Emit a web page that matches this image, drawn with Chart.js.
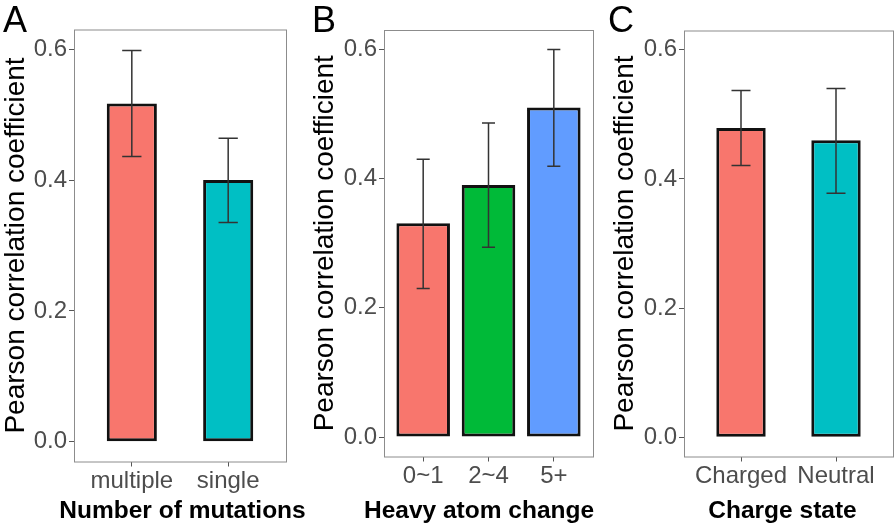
<!DOCTYPE html>
<html>
<head>
<meta charset="utf-8">
<script src="https://cdn.jsdelivr.net/npm/chart.js@4.4.1/dist/chart.umd.min.js"></script>
<style>
    body { margin: 0; background: #fff; }
    #wrap { position: relative; width: 896px; height: 527px; }
    .panel { position: absolute; top: 0; height: 527px; }
    .tag { position: absolute; font-family: 'Liberation Sans', Arial, sans-serif; font-size: 36px; line-height: 1; color: #000; }
</style>
</head>
<body>
<div id="wrap">
    <!-- panel A is a bit wider than its slot so its long x title is not clipped;
         canvases are transparent, so the overlap does not hide anything -->
    <div class="panel" style="left:0;width:320px"><canvas id="chartA"></canvas></div>
    <div class="panel" style="left:300px;width:300px"><canvas id="chartB"></canvas></div>
    <div class="panel" style="left:600px;width:296px"><canvas id="chartC"></canvas></div>
    <div class="tag" style="left:3px;top:2px">A</div>
    <div class="tag" style="left:312px;top:2px">B</div>
    <div class="tag" style="left:608px;top:2px">C</div>
</div>
<script>
// panel A
const mutationCats = ['multiple', 'single'];
const mutationVals = [0.517, 0.400];
const mutationLow = [0.436, 0.335];
const mutationHigh = [0.598, 0.464];

// panel B
const atomCats = ['0~1', '2~4', '5+'];
const atomVals = [0.331, 0.390, 0.510];
const atomLow = [0.230, 0.294, 0.419];
const atomHigh = [0.430, 0.486, 0.600];

// panel C
const chargeCats = ['Charged', 'Neutral'];
const chargeVals = [0.479, 0.460];
const chargeLow = [0.421, 0.378];
const chargeHigh = [0.537, 0.540];

const yTicks = [0, 0.2, 0.4, 0.6];

const FONT = "'Liberation Sans', Arial, sans-serif";

// error bars with small caps, drawn through the chart scales
const errorBarPlugin = {
    id: 'errbars',
    afterDatasetsDraw(chart, args, opts) {
        const ctx = chart.ctx;
        const x = chart.scales.x;
        const y = chart.scales.y;
        ctx.save();
        ctx.strokeStyle = '#333';
        ctx.lineWidth = 1.5;
        opts.low.forEach((lo, i) => {
            const cx = x.getPixelForValue(i + 1);
            const half = x.getPixelForValue(i + 1 + 0.1) - cx;
            const yLo = y.getPixelForValue(lo);
            const yHi = y.getPixelForValue(opts.high[i]);
            ctx.beginPath();
            ctx.moveTo(cx, yLo); ctx.lineTo(cx, yHi);
            ctx.moveTo(cx - half, yLo); ctx.lineTo(cx + half, yLo);
            ctx.moveTo(cx - half, yHi); ctx.lineTo(cx + half, yHi);
            ctx.stroke();
        });
        ctx.restore();
    }
};

// panel border around the plot area, plus the bold x title.
// the built-in scale title squeezes text to the plot width, which is
// narrower than these titles, so it is drawn here instead
const framePlugin = {
    id: 'frame',
    afterDraw(chart, args, opts) {
        const a = chart.chartArea;
        const ctx = chart.ctx;
        ctx.save();
        ctx.strokeStyle = '#8c8c8c';
        ctx.lineWidth = 1;
        ctx.strokeRect(a.left + 0.5, a.top + 0.5, a.right - a.left, a.bottom - a.top);

        ctx.fillStyle = '#000';
        ctx.font = 'bold 24.5px ' + FONT;
        ctx.textAlign = 'center';
        ctx.textBaseline = 'alphabetic';
        ctx.fillText(opts.xTitle, (a.left + a.right) / 2 + opts.shift, chart.height - 9);
        ctx.restore();
    }
};

function makePanel(id, cats, vals, low, high, colors, xTitle, lay) {
    const ctx = document.getElementById(id);
    return new Chart(ctx, {
        type: 'bar',
        data: {
            datasets: [{
                data: vals.map((v, i) => ({ x: i + 1, y: v })),
                backgroundColor: colors,
                borderColor: '#111',
                borderWidth: 3,
                borderSkipped: false,
                categoryPercentage: 1,
                barPercentage: lay.barPct
            }]
        },
        options: {
            responsive: true,
            maintainAspectRatio: false,
            animation: false,
            layout: {
                padding: { left: 0, right: lay.padRight, top: lay.padTop, bottom: 0 }
            },
            plugins: {
                legend: { display: false },
                tooltip: { enabled: false },
                errbars: { low: low, high: high },
                frame: { xTitle: xTitle, shift: lay.titleShift }
            },
            scales: {
                x: {
                    type: 'linear',
                    offset: false,
                    min: 0.4,
                    max: cats.length + 0.6,
                    afterBuildTicks: (scale) => {
                        scale.ticks = cats.map((c, i) => ({ value: i + 1 }));
                    },
                    afterFit: (scale) => { scale.height = lay.xHeight; },
                    grid: { drawOnChartArea: false, offset: false, tickLength: 5, color: '#555' },
                    border: { display: false },
                    ticks: {
                        autoSkip: false,
                        maxRotation: 0,
                        padding: 4,
                        color: '#4D4D4D',
                        font: { family: FONT, size: 24, lineHeight: 0.9 },
                        callback: (v) => cats[v - 1]
                    }
                },
                y: {
                    min: -0.03,
                    max: 0.63,
                    afterBuildTicks: (scale) => {
                        scale.ticks = yTicks.map(v => ({ value: v }));
                    },
                    afterFit: (scale) => { scale.width = lay.yWidth; },
                    grid: { drawOnChartArea: false, tickLength: 5, color: '#555' },
                    border: { display: false },
                    ticks: {
                        padding: 2,
                        color: '#4D4D4D',
                        font: { family: FONT, size: 24 },
                        callback: (v) => v.toFixed(1)
                    },
                    title: {
                        display: true,
                        text: 'Pearson correlation coefficient',
                        color: '#000',
                        font: { family: FONT, size: 28, lineHeight: 1 },
                        padding: { top: lay.titlePad, bottom: 0 }
                    }
                }
            }
        },
        plugins: [errorBarPlugin, framePlugin]
    });
}

makePanel('chartA', mutationCats, mutationVals, mutationLow, mutationHigh,
    ['#F8766D', '#00BFC4'], 'Number of mutations',
    { yWidth: 74, xHeight: 65.5, padTop: 29.5, padRight: 34, barPct: 0.52, titlePad: 2, titleShift: 2.5 });

makePanel('chartB', atomCats, atomVals, atomLow, atomHigh,
    ['#F8766D', '#00BA38', '#619CFF'], 'Heavy atom change',
    { yWidth: 84, xHeight: 70.5, padTop: 30, padRight: 7, barPct: 0.82, titlePad: 11, titleShift: -9.5 });

makePanel('chartC', chargeCats, chargeVals, chargeLow, chargeHigh,
    ['#F8766D', '#00BFC4'], 'Charge state',
    { yWidth: 84, xHeight: 70.5, padTop: 30.5, padRight: 3, barPct: 0.52, titlePad: 11, titleShift: -6 });
</script>
</body>
</html>
